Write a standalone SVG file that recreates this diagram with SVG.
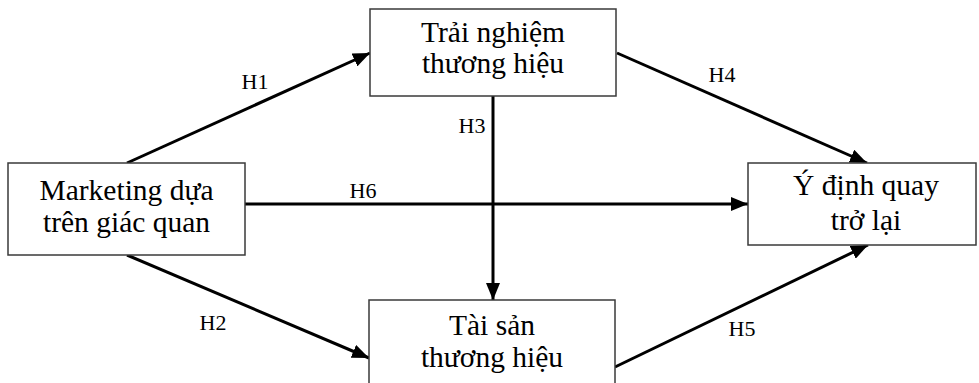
<svg xmlns="http://www.w3.org/2000/svg" width="979" height="383" viewBox="0 0 979 383">
<style>
.box{fill:#fff;stroke:#3a3a3a;stroke-width:1.5}
.t{font-family:"Liberation Serif","Times New Roman",serif;font-size:29.5px;fill:#000;text-anchor:middle}
.h{font-family:"Liberation Serif","Times New Roman",serif;font-size:22px;fill:#000;text-anchor:middle}
.c{stroke:#000;stroke-width:3;fill:none;marker-end:url(#ah)}
</style>
<defs>
<marker id="ah" markerUnits="userSpaceOnUse" markerWidth="18" markerHeight="14" refX="17" refY="7" orient="auto">
<path d="M0,0 L17,7 L0,14 z" fill="#000"/>
</marker>
</defs>
<rect width="979" height="383" fill="#fff"/>
<g id="connectors">
<line class="c" x1="127" y1="163" x2="370" y2="53"/>
<line class="c" x1="127" y1="255" x2="369" y2="358"/>
<line class="c" x1="493" y1="96" x2="493" y2="300"/>
<line class="c" x1="617" y1="53" x2="867" y2="163"/>
<line class="c" x1="615" y1="367" x2="868" y2="245"/>
<line class="c" x1="245" y1="204" x2="748" y2="204"/>
<text class="h" x="255" y="89">H1</text>
<text class="h" x="213" y="330">H2</text>
<text class="h" x="472" y="133">H3</text>
<text class="h" x="722" y="82">H4</text>
<text class="h" x="742" y="336">H5</text>
<text class="h" x="363" y="198">H6</text>
</g>
<g id="marketing">
<rect class="box" x="8" y="163" width="237" height="92"/>
<text class="t" x="126.5" y="200">Marketing dựa</text>
<text class="t" x="126.5" y="232">trên giác quan</text>
</g>
<g id="trai-nghiem">
<rect class="box" x="370" y="9" width="246" height="87"/>
<text class="t" x="493" y="42">Trải nghiệm</text>
<text class="t" x="493" y="73">thương hiệu</text>
</g>
<g id="tai-san">
<rect class="box" x="369" y="300" width="246" height="95"/>
<text class="t" x="492" y="335">Tài sản</text>
<text class="t" x="492" y="367">thương hiệu</text>
</g>
<g id="y-dinh">
<rect class="box" x="748" y="163" width="228" height="82"/>
<text class="t" x="866" y="195">Ý định quay</text>
<text class="t" x="866" y="230">trở lại</text>
</g>
</svg>
